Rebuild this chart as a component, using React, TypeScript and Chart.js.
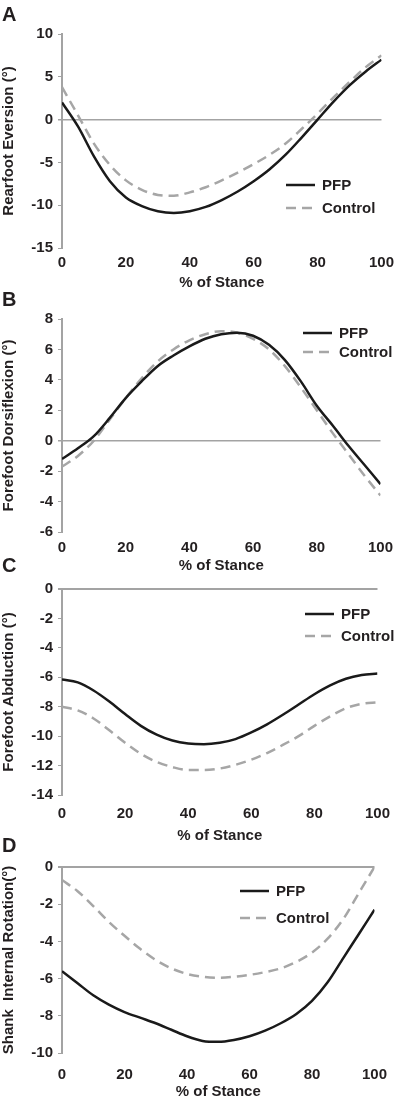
import React, { useEffect, useRef } from 'react';
import { Chart, registerables } from 'chart.js';

Chart.register(...registerables);

// ---------- data ----------
const stance = [0, 5, 10, 15, 20, 25, 30, 35, 40, 45, 50, 55, 60, 65, 70, 75, 80, 85, 90, 95, 100];
const seriesLabels = ['PFP', 'Control'];

const rearfootPFP = [2.0, -0.8, -4.3, -7.2, -9.1, -10.1, -10.7, -10.9, -10.7, -10.2, -9.4, -8.4, -7.2, -5.8, -4.1, -2.1, 0.0, 2.1, 4.0, 5.6, 7.0];
const rearfootControl = [3.8, 0.5, -2.8, -5.3, -7.1, -8.2, -8.8, -8.9, -8.5, -7.9, -7.1, -6.2, -5.2, -4.1, -2.8, -1.1, 0.7, 2.6, 4.4, 6.1, 7.5];

const dorsiPFP = [-1.2, -0.5, 0.3, 1.5, 2.8, 3.9, 4.9, 5.6, 6.2, 6.7, 7.0, 7.1, 6.9, 6.3, 5.3, 3.9, 2.3, 1.0, -0.35, -1.6, -2.85];
const dorsiControl = [-1.7, -1.0, 0.0, 1.4, 2.8, 4.1, 5.2, 6.0, 6.6, 7.0, 7.2, 7.1, 6.7, 6.0, 4.9, 3.5, 2.0, 0.5, -0.9, -2.3, -3.6];

const abductionPFP = [-6.15, -6.35, -6.9, -7.65, -8.5, -9.3, -9.9, -10.3, -10.5, -10.55, -10.45, -10.2, -9.75, -9.2, -8.55, -7.85, -7.15, -6.55, -6.1, -5.85, -5.75];
const abductionControl = [-8.0, -8.25, -8.8, -9.6, -10.45, -11.2, -11.75, -12.1, -12.3, -12.3, -12.2, -11.95, -11.6, -11.15, -10.6, -10.0, -9.3, -8.65, -8.1, -7.8, -7.7];

const shankPFP = [-5.6, -6.25, -6.9, -7.4, -7.8, -8.1, -8.4, -8.75, -9.1, -9.35, -9.4, -9.3, -9.1, -8.8, -8.4, -7.9, -7.2, -6.2, -4.9, -3.6, -2.3];
const shankControl = [-0.7, -1.3, -2.1, -2.95, -3.7, -4.4, -5.0, -5.45, -5.75, -5.9, -5.95, -5.9, -5.8, -5.65, -5.45, -5.1, -4.6, -3.85, -2.8, -1.4, 0.0];

const panelLetters = ['A', 'B', 'C', 'D'];
const yTitles = ['Rearfoot Eversion (°)', 'Forefoot Dorsiflexion (°)', 'Forefoot Abduction (°)', 'Shank  Internal Rotation(°)'];
const xTitle = '% of Stance';
const yRanges = [[-15, 10, 5], [-6, 8, 2], [-14, 0, 2], [-10, 0, 2]];
const xRange = [0, 100, 20];

// ---------- styling / layout ----------
const FONT = '"Liberation Sans", Arial, Helvetica, sans-serif';
const TEXT = '#231f20';
const AXIS = '#a3a3a3';

const layouts = [
  { top: 0, height: 292, padTop: 34, xAxisH: 44, xTickPad: 6, zeroW: 1.5, lx: 224, ly: 151, rowGap: 23, letterTop: 4 },
  { top: 292, height: 283, padTop: 27, xAxisH: 43, xTickPad: 7, zeroW: 1.5, lx: 241, ly: 14, rowGap: 19, letterTop: 289 },
  { top: 575, height: 270, padTop: 13, xAxisH: 50, xTickPad: 10, zeroW: 2, lx: 243, ly: 25, rowGap: 22, letterTop: 555 },
  { top: 845, height: 256, padTop: 22, xAxisH: 48, xTickPad: 13, zeroW: 2, lx: 178, ly: 24, rowGap: 27, letterTop: 835 },
];

const panelData = [
  [rearfootPFP, rearfootControl],
  [dorsiPFP, dorsiControl],
  [abductionPFP, abductionControl],
  [shankPFP, shankControl],
];

const inlineLegend = {
  id: 'inlineLegend',
  afterDatasetsDraw(chart: any, _args: any, opts: any) {
    const { ctx, chartArea } = chart;
    const x0 = chartArea.left + opts.dx;
    let y = chartArea.top + opts.dy;
    ctx.save();
    chart.data.datasets.forEach((ds: any) => {
      ctx.beginPath();
      ctx.setLineDash(ds.borderDash || []);
      ctx.lineWidth = ds.borderWidth;
      ctx.strokeStyle = ds.borderColor;
      ctx.moveTo(x0, y);
      ctx.lineTo(x0 + opts.lineLen, y);
      ctx.stroke();
      ctx.setLineDash([]);
      ctx.fillStyle = TEXT;
      ctx.font = `bold 15px ${FONT}`;
      ctx.textBaseline = 'middle';
      ctx.textAlign = 'left';
      ctx.fillText(ds.label, x0 + opts.lineLen + 7, y + 1);
      y += opts.rowGap;
    });
    ctx.restore();
  },
};

function Panel({ index }: { index: number }) {
  const ref = useRef<HTMLCanvasElement>(null);
  const L = layouts[index];
  useEffect(() => {
    const [pfp, ctrl] = panelData[index];
    const [ymin, ymax, ystep] = yRanges[index];
    const chart = new Chart(ref.current as HTMLCanvasElement, {
      type: 'line',
      data: {
        datasets: [
          {
            label: seriesLabels[0],
            data: stance.map((x, i) => ({ x, y: pfp[i] })),
            borderColor: '#1a1a1a',
            borderWidth: 2.5,
            pointRadius: 0,
            cubicInterpolationMode: 'monotone',
            fill: false,
          },
          {
            label: seriesLabels[1],
            data: stance.map((x, i) => ({ x, y: ctrl[i] })),
            borderColor: '#a6a6a6',
            borderWidth: 2.5,
            borderDash: [10, 6],
            pointRadius: 0,
            cubicInterpolationMode: 'monotone',
            fill: false,
          },
        ],
      },
      options: {
        animation: false,
        responsive: false,
        layout: { padding: { top: L.padTop, right: 15, left: 0, bottom: 0 } },
        plugins: {
          legend: { display: false },
          tooltip: { enabled: false },
          inlineLegend: { dx: L.lx, dy: L.ly, rowGap: L.rowGap, lineLen: 29 },
        } as any,
        scales: {
          x: {
            type: 'linear',
            min: xRange[0],
            max: xRange[1],
            grid: { display: false, drawTicks: false, tickLength: 0 },
            border: { display: false },
            ticks: {
              stepSize: xRange[2],
              padding: L.xTickPad,
              color: TEXT,
              font: { family: FONT, size: 15, weight: 'bold' },
              maxRotation: 0,
            },
            title: {
              display: true,
              text: xTitle,
              color: TEXT,
              font: { family: FONT, size: 15, weight: 'bold' },
              padding: { top: 0, bottom: 0 },
            },
            afterFit: (s: any) => {
              s.height = L.xAxisH;
            },
          },
          y: {
            type: 'linear',
            min: ymin,
            max: ymax,
            grid: {
              drawTicks: true,
              tickLength: 4,
              tickColor: AXIS,
              color: (c: any) => (c.tick && c.tick.value === 0 ? AXIS : 'rgba(0,0,0,0)'),
              lineWidth: (c: any) => (c.tick && c.tick.value === 0 ? L.zeroW : 1),
            },
            border: { display: true, color: AXIS, width: 2 },
            ticks: {
              stepSize: ystep,
              padding: 5,
              color: TEXT,
              font: { family: FONT, size: 15, weight: 'bold' },
            },
            title: {
              display: true,
              text: yTitles[index],
              color: TEXT,
              font: { family: FONT, size: 15, weight: 'bold' },
              padding: { top: 0, bottom: 0 },
            },
            afterFit: (s: any) => {
              s.width = 62;
            },
          },
        },
      } as any,
      plugins: [inlineLegend],
    });
    return () => chart.destroy();
  }, [index]);

  return (
    <>
      <div style={{ position: 'absolute', left: 0, top: L.top, width: 400, height: L.height }}>
        <canvas ref={ref} width={400} height={L.height} style={{ display: 'block', width: 400, height: L.height }} />
      </div>
      <div
        style={{
          position: 'absolute',
          left: 2,
          top: L.letterTop,
          fontFamily: FONT,
          fontWeight: 'bold',
          fontSize: 20,
          lineHeight: '20px',
          color: TEXT,
        }}
      >
        {panelLetters[index]}
      </div>
    </>
  );
}

export default function App() {
  return (
    <div
      style={{
        position: 'absolute',
        left: 0,
        top: 0,
        width: 400,
        height: 1099,
        overflow: 'hidden',
        background: '#ffffff',
      }}
    >
      {panelLetters.map((_, i) => (
        <Panel key={i} index={i} />
      ))}
    </div>
  );
}
